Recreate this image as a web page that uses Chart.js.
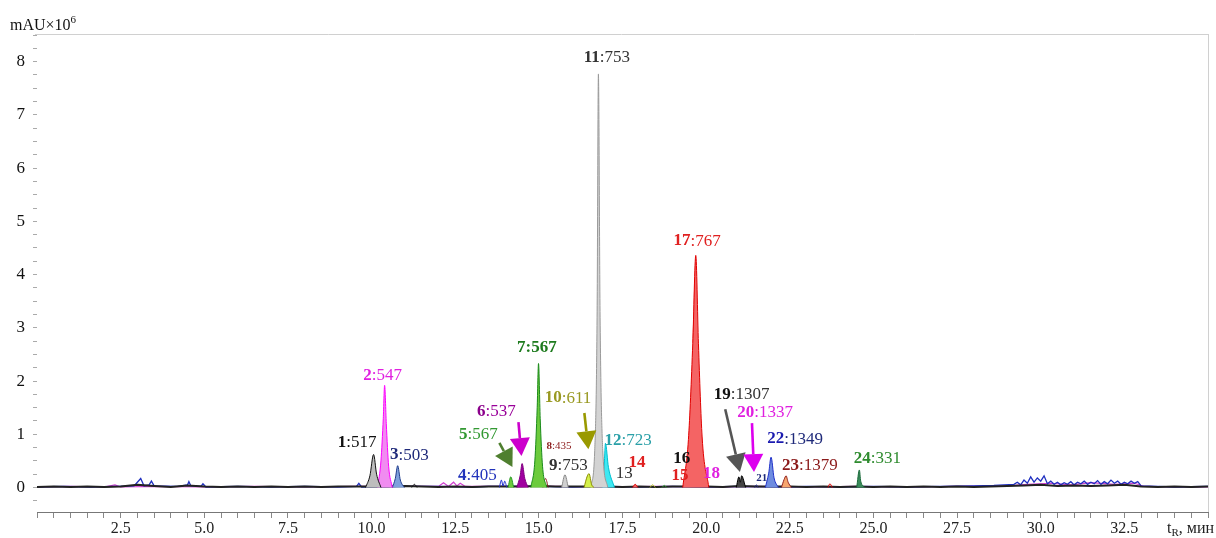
<!DOCTYPE html>
<html>
<head>
<meta charset="utf-8">
<script src="https://cdn.jsdelivr.net/npm/chart.js@4.4.0/dist/chart.umd.min.js"></script>
<style>
    body { margin: 0; background: #fff; }
    #wrap { width: 1216px; height: 538px; }
</style>
</head>
<body>
<div id="wrap"><canvas id="chromChart" width="1216" height="538"></canvas></div>
<script>
// Хроматограмма: пики (время, мин; сигнал, mAU×10^6)
const peakNames = ['1', '2', '3', '4', '5', '6', '7', '8', '9', '10', '11', '12', '14', '17', '19', '21', '22', '23', '24'];
const peakShapes = [
    [[9.82, 0], [9.95, 0.22], [10.06, 0.62], [10.15, 0.25], [10.28, 0]],
    [[10.18, 0], [10.28, 0.5], [10.35, 1.3], [10.39, 1.92], [10.44, 1.2], [10.51, 0.4], [10.62, 0]],
    [[10.62, 0], [10.71, 0.17], [10.78, 0.41], [10.86, 0.14], [10.98, 0]],
    [[13.82, 0], [13.88, 0.14], [13.93, 0.03], [13.98, 0.12], [14.04, 0]],
    [[14.08, 0], [14.16, 0.2], [14.25, 0]],
    [[14.34, 0], [14.44, 0.22], [14.5, 0.45], [14.58, 0.17], [14.68, 0]],
    [[14.76, 0], [14.88, 0.5], [14.95, 1.5], [14.99, 2.33], [15.04, 1.3], [15.11, 0.4], [15.24, 0]],
    [[15.12, 0], [15.2, 0.17], [15.28, 0]],
    [[15.68, 0], [15.78, 0.24], [15.88, 0]],
    [[16.35, 0], [16.45, 0.22], [16.5, 0.26], [16.58, 0.05], [16.65, 0]],
    [[16.55, 0], [16.67, 0.7], [16.74, 3.2], [16.78, 7.77], [16.83, 3.2], [16.91, 0.7], [17.06, 0]],
    [[16.9, 0], [16.96, 0.5], [16.99, 0.83], [17.08, 0.38], [17.26, 0]],
    [[17.8, 0], [17.88, 0.06], [17.96, 0]],
    [[19.3, 0], [19.47, 0.9], [19.6, 2.7], [19.69, 4.36], [19.77, 2.7], [19.88, 0.95], [20.08, 0]],
    [[20.9, 0], [20.98, 0.2], [21.02, 0.1], [21.06, 0.22], [21.18, 0]],
    [[21.45, 0], [21.5, 0.05], [21.55, 0]],
    [[21.77, 0], [21.87, 0.27], [21.94, 0.57], [22.03, 0.18], [22.16, 0]],
    [[22.25, 0], [22.33, 0.15], [22.39, 0.22], [22.45, 0.1], [22.55, 0]],
    [[24.5, 0], [24.58, 0.33], [24.62, 0.12], [24.75, 0]]
];
const peakFills = ['#bdbdbd', '#f08cf0', '#7fa0dc', 'rgba(0,0,0,0)', '#6ccb3c', '#a000a0', '#6ccb3c', 'rgba(0,0,0,0)',
    '#d0d0d0', '#d4f04a', '#d3d3d3', '#3fe8f2', '#f06060', '#f46464', '#444444', 'rgba(0,0,0,0)', '#6e8ce0', '#f7a56e', '#3a8a5a'];
const peakEdges = ['#111111', '#ff00ff', '#1f3c8c', '#1f2fd0', '#2a9a2a', '#800080', '#1a8a1a', '#8b1a1a',
    '#888888', '#8c8c00', '#9a9a9a', '#00bfd0', '#e00000', '#e00000', '#000000', '#1f2a7a', '#1e2fc8', '#8b1a1a', '#1b6b3b'];

// мелкие пики
const minorShapes = [
    [[18.32, 0], [18.4, 0.05], [18.48, 0]],
    [[18.68, 0], [18.75, 0.04], [18.82, 0]],
    [[23.64, 0], [23.7, 0.07], [23.77, 0]],
    [[11.2, 0], [11.28, 0.06], [11.36, 0]]
];
const minorEdges = ['#b0c020', '#2a9a2a', '#e00000', '#111111'];

// шум базовой линии
const baseBlack = [[0, 0.01], [0.5, 0.02], [1, 0.01], [1.5, 0.02], [2, 0.01], [2.5, 0.02], [3, 0.05], [3.5, 0.03], [4, 0.01],
    [4.5, 0.04], [5, 0.02], [5.5, 0.01], [6, 0.02], [6.5, 0.01], [7, 0.02], [7.5, 0.01], [8, 0.02], [8.5, 0.01], [9, 0.02],
    [9.5, 0.02], [10.5, 0.02], [11, 0.03], [11.5, 0.02], [12, 0.01], [12.5, 0.02], [13, 0.01], [13.5, 0.02], [14, 0.02],
    [14.5, 0.02], [15, 0.03], [15.5, 0.02], [16, 0.02], [16.5, 0.02], [17, 0.02], [17.5, 0.01], [18, 0.02], [18.5, 0.01],
    [19, 0.02], [19.5, 0.02], [20, 0.02], [20.5, 0.01], [21, 0.03], [21.5, 0.02], [22, 0.02], [22.5, 0.02], [23, 0.01],
    [23.5, 0.02], [24, 0.01], [24.5, 0.02], [25, 0.01], [25.5, 0.02], [26, 0.01], [26.5, 0.02], [27, 0.01], [27.5, 0.02],
    [28, 0.01], [28.5, 0.02], [29, 0.03], [29.5, 0.04], [30, 0.05], [30.5, 0.03], [31, 0.04], [31.5, 0.03], [32, 0.04],
    [32.5, 0.05], [33, 0.02], [33.5, 0.01], [34, 0.02], [34.5, 0.01], [35, 0.02]];
const baseBlue = [[0, 0.01], [0.8, 0.02], [1.6, 0.01], [2.4, 0.02], [2.9, 0.03], [3.0, 0.1], [3.1, 0.17], [3.2, 0.03],
    [3.35, 0.05], [3.42, 0.12], [3.5, 0.03], [4.2, 0.02], [4.5, 0.05], [4.54, 0.11], [4.6, 0.03], [4.9, 0.02], [4.96, 0.07],
    [5.05, 0.01], [6, 0.02], [7, 0.01], [8, 0.02], [9, 0.01], [9.55, 0.02], [9.62, 0.08], [9.7, 0.01], [11, 0.02], [12, 0.02],
    [13, 0.01], [13.5, 0.02], [15, 0.02], [16, 0.01], [17, 0.02], [18, 0.01], [19, 0.02], [20, 0.01], [21, 0.02], [22.5, 0.01],
    [23, 0.02], [24, 0.01], [25, 0.02], [26, 0.01], [27, 0.02], [28, 0.03], [28.6, 0.04], [29.2, 0.06], [29.3, 0.1],
    [29.4, 0.05], [29.5, 0.14], [29.6, 0.08], [29.7, 0.2], [29.8, 0.1], [29.9, 0.18], [30.0, 0.12], [30.1, 0.22], [30.2, 0.07],
    [30.3, 0.12], [30.4, 0.06], [30.5, 0.1], [30.6, 0.05], [30.7, 0.09], [30.8, 0.06], [30.9, 0.11], [31.0, 0.05], [31.1, 0.1],
    [31.2, 0.07], [31.3, 0.12], [31.4, 0.06], [31.5, 0.1], [31.6, 0.07], [31.7, 0.13], [31.8, 0.06], [31.9, 0.11], [32.0, 0.07],
    [32.1, 0.14], [32.2, 0.08], [32.3, 0.12], [32.4, 0.06], [32.5, 0.1], [32.6, 0.07], [32.7, 0.12], [32.8, 0.08], [32.9, 0.11],
    [33.0, 0.03], [33.5, 0.02], [34, 0.01], [35, 0.02]];
const baseMagenta = [[0, 0.01], [1, 0.02], [2, 0.01], [2.33, 0.05], [2.5, 0.01], [3.5, 0.02], [5, 0.01], [6.5, 0.02], [8, 0.01],
    [9.5, 0.02], [12.0, 0.02], [12.15, 0.09], [12.3, 0.02], [12.45, 0.1], [12.55, 0.03], [12.65, 0.08], [12.8, 0.02], [14, 0.02],
    [15.5, 0.02], [17, 0.01], [18.5, 0.02], [20.5, 0.01], [21.5, 0.02], [23, 0.01], [24.5, 0.02], [26, 0.01], [27.5, 0.02],
    [29, 0.03], [29.6, 0.06], [30.3, 0.08], [30.9, 0.05], [31.5, 0.09], [32.2, 0.06], [32.8, 0.08], [33.1, 0.02], [34, 0.01],
    [35, 0.01]];

// подписи пиков: номер, масса
const labelNums = ['1', '2', '3', '4', '5', '6', '7', '8', '9', '10', '11', '12', '13', '14', '15', '16', '17', '18', '19', '20', '21', '22', '23', '24'];
const labelMasses = ['517', '547', '503', '405', '567', '537', '567', '435', '753', '611', '753', '723', '', '', '', '', '767', '', '1307', '1337', '', '1349', '1379', '331'];
const labelAt = [[9.57, 0.84], [10.33, 2.11], [11.13, 0.61], [13.16, 0.23], [13.19, 0.99], [13.73, 1.42], [14.94, 2.62],
    [15.6, 0.78], [15.88, 0.42], [15.87, 1.68], [17.03, 8.08], [17.67, 0.89], [17.55, 0.27], [17.93, 0.46], [19.22, 0.23],
    [19.27, 0.54], [19.73, 4.63], [20.16, 0.27], [21.06, 1.74], [21.76, 1.40], [21.66, 0.18], [22.66, 0.91], [23.1, 0.42], [25.12, 0.55]];
const labelNumColors = ['#111', '#e020e0', '#1f2a7a', '#2233bb', '#339933', '#8b008b', '#1e7b1e', '#8b1a1a', '#333', '#999922',
    '#333', '#2aa0a8', '#333', '#e02020', '#e02020', '#111', '#e02020', '#e020e0', '#111', '#e020e0', '#1f2a7a', '#1a1ab0', '#8b1a1a', '#2e8b2e'];
const labelRestColors = ['#111', '#e020e0', '#1f2a7a', '#2233bb', '#339933', '#990099', '#1e7b1e', '#8b1a1a', '#333', '#999922',
    '#333', '#2aa0a8', '#333', '#e02020', '#e02020', '#111', '#e02020', '#e020e0', '#333', '#e020e0', '#1f2a7a', '#1f2a7a', '#8b1a1a', '#2e8b2e'];
const labelSmall = ['8', '21'];
const labelBoldAll = ['7'];
const labelPlainNum = ['13'];

// стрелки: [хвост], [острие]
const arrows = [
    { from: [13.82, 0.84], to: [14.21, 0.385], color: '#4f7f2f' },
    { from: [14.39, 1.23], to: [14.48, 0.59], color: '#cc00cc' },
    { from: [16.36, 1.4], to: [16.48, 0.72], color: '#999900' },
    { from: [20.57, 1.47], to: [21.01, 0.29], color: '#555555' },
    { from: [21.37, 1.21], to: [21.43, 0.29], color: '#dd00ee' }
];

const FONT = '"Liberation Serif", "Times New Roman", serif';

function toXY(points) {
    return points.map(p => ({ x: p[0], y: p[1] }));
}

function buildDatasets() {
    const sets = [];
    sets.push({ data: toXY(baseMagenta), borderColor: '#d040d0', borderWidth: 1.2, fill: false, order: 30 });
    sets.push({ data: toXY(baseBlue), borderColor: '#2030c0', borderWidth: 1.3, fill: false, order: 29 });
    sets.push({ data: toXY(baseBlack), borderColor: '#222222', borderWidth: 2, fill: false, order: 28 });
    minorShapes.forEach((shape, i) => {
        sets.push({ data: toXY(shape), borderColor: minorEdges[i], borderWidth: 1, fill: false, order: 20,
            cubicInterpolationMode: 'monotone' });
    });
    peakShapes.forEach((shape, i) => {
        sets.push({
            label: peakNames[i],
            data: toXY(shape),
            borderColor: peakEdges[i],
            backgroundColor: peakFills[i],
            borderWidth: 1,
            fill: 'origin',
            cubicInterpolationMode: 'monotone',
            order: 10
        });
    });
    return sets;
}

const decorPlugin = {
    id: 'decor',
    afterDatasetsDraw(chart) {
        const ctx = chart.ctx;
        const xs = chart.scales.x;
        const ys = chart.scales.y;
        const area = chart.chartArea;

        // рамка сверху и справа
        ctx.save();
        ctx.strokeStyle = '#d0d0d0';
        ctx.lineWidth = 1;
        ctx.beginPath();
        ctx.moveTo(area.left - 2, area.top + 0.5);
        ctx.lineTo(area.right, area.top + 0.5);
        ctx.moveTo(area.right + 0.5, area.top);
        ctx.lineTo(area.right + 0.5, area.bottom);
        ctx.stroke();

        // стрелки
        arrows.forEach(a => {
            const x1 = xs.getPixelForValue(a.from[0]), y1 = ys.getPixelForValue(a.from[1]);
            const x2 = xs.getPixelForValue(a.to[0]), y2 = ys.getPixelForValue(a.to[1]);
            const ang = Math.atan2(y2 - y1, x2 - x1);
            const headLen = 18, headHalf = 10;
            const bx = x2 - headLen * Math.cos(ang), by = y2 - headLen * Math.sin(ang);
            ctx.strokeStyle = a.color;
            ctx.fillStyle = a.color;
            ctx.lineWidth = 2.6;
            ctx.beginPath();
            ctx.moveTo(x1, y1);
            ctx.lineTo(bx, by);
            ctx.stroke();
            ctx.beginPath();
            ctx.moveTo(x2, y2);
            ctx.lineTo(bx + headHalf * Math.sin(ang), by - headHalf * Math.cos(ang));
            ctx.lineTo(bx - headHalf * Math.sin(ang), by + headHalf * Math.cos(ang));
            ctx.closePath();
            ctx.fill();
        });

        // подписи пиков
        ctx.textBaseline = 'middle';
        ctx.textAlign = 'left';
        labelNums.forEach((num, i) => {
            const small = labelSmall.includes(num);
            const size = small ? 11 : 17;
            const boldAll = labelBoldAll.includes(num);
            const numFont = (labelPlainNum.includes(num) ? '' : 'bold ') + size + 'px ' + FONT;
            const restFont = (boldAll ? 'bold ' : '') + size + 'px ' + FONT;
            const rest = labelMasses[i] ? ':' + labelMasses[i] : '';
            ctx.font = numFont;
            const w1 = ctx.measureText(num).width;
            ctx.font = restFont;
            const w2 = ctx.measureText(rest).width;
            const cx = xs.getPixelForValue(labelAt[i][0]);
            const cy = ys.getPixelForValue(labelAt[i][1]);
            const x0 = cx - (w1 + w2) / 2;
            ctx.font = numFont;
            ctx.fillStyle = labelNumColors[i];
            ctx.fillText(num, x0, cy);
            if (rest) {
                ctx.font = restFont;
                ctx.fillStyle = labelRestColors[i];
                ctx.fillText(rest, x0 + w1, cy);
            }
        });

        // подписи осей
        ctx.fillStyle = '#111';
        ctx.textBaseline = 'alphabetic';
        ctx.font = '16px ' + FONT;
        ctx.fillText('mAU\u00d710', 10, 30);
        const wT = ctx.measureText('mAU\u00d710').width;
        ctx.font = '11px ' + FONT;
        ctx.fillText('6', 10 + wT, 23);

        ctx.fillStyle = '#222';
        ctx.font = '16px ' + FONT;
        ctx.fillText('t', 1167, 533);
        const wt = ctx.measureText('t').width;
        ctx.font = '11px ' + FONT;
        ctx.fillText('R', 1167 + wt, 536);
        const wr = ctx.measureText('R').width;
        ctx.font = '16px ' + FONT;
        ctx.fillText(', мин', 1167 + wt + wr, 533);
        ctx.restore();
    }
};

function isMultiple(v, step) {
    const r = v / step;
    return Math.abs(r - Math.round(r)) < 1e-6;
}

document.addEventListener('DOMContentLoaded', function () {
    const canvas = document.getElementById('chromChart');
    new Chart(canvas, {
        type: 'line',
        data: { datasets: buildDatasets() },
        options: {
            responsive: false,
            animation: false,
            layout: { padding: { top: 34, right: 8, left: 0, bottom: 0 } },
            elements: { point: { radius: 0 }, line: { tension: 0 } },
            scales: {
                x: {
                    type: 'linear',
                    min: 0,
                    max: 35,
                    afterFit: function (scale) { scale.height = 26; },
                    border: { display: true, color: '#777', width: 1 },
                    grid: { drawOnChartArea: false, drawTicks: true, tickLength: 6, color: '#888' },
                    ticks: {
                        stepSize: 0.5,
                        autoSkip: false,
                        maxRotation: 0,
                        includeBounds: false,
                        padding: 1,
                        color: '#222',
                        font: { family: FONT, size: 16 },
                        callback: function (value) {
                            if (value > 0 && value < 34 && isMultiple(value, 2.5)) return value.toFixed(1);
                            return '';
                        }
                    }
                },
                y: {
                    type: 'linear',
                    min: -0.46,
                    max: 8.52,
                    afterFit: function (scale) { scale.width = 37; },
                    border: { display: false },
                    grid: { drawOnChartArea: false, drawTicks: true, tickLength: 4, color: '#aaa' },
                    ticks: {
                        stepSize: 0.25,
                        autoSkip: false,
                        includeBounds: false,
                        padding: 8,
                        color: '#111',
                        font: { family: FONT, size: 17 },
                        callback: function (value) {
                            if (isMultiple(value, 1)) return String(Math.round(value));
                            return '';
                        }
                    }
                }
            },
            plugins: {
                legend: { display: false },
                tooltip: { enabled: false }
            }
        },
        plugins: [decorPlugin]
    });
});
</script>
</body>
</html>
